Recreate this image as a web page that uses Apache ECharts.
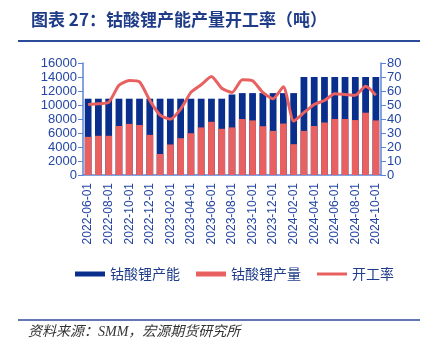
<!DOCTYPE html>
<html>
<head>
<meta charset="utf-8">
<script src="https://cdn.jsdelivr.net/npm/echarts@6/dist/echarts.min.js"></script>
<style>
  html, body { margin: 0; padding: 0; background: #fff; }
  #main { width: 427px; height: 351px; }
</style>
</head>
<body>
<div id="main"></div>
<script>
// 月度数据 2022-06 ~ 2024-10
var months = [
    '2022-06-01', '2022-07-01', '2022-08-01', '2022-09-01', '2022-10-01', '2022-11-01', '2022-12-01',
    '2023-01-01', '2023-02-01', '2023-03-01', '2023-04-01', '2023-05-01', '2023-06-01', '2023-07-01',
    '2023-08-01', '2023-09-01', '2023-10-01', '2023-11-01', '2023-12-01', '2024-01-01', '2024-02-01',
    '2024-03-01', '2024-04-01', '2024-05-01', '2024-06-01', '2024-07-01', '2024-08-01', '2024-09-01',
    '2024-10-01'
];

var capacity = [10900, 10900, 10900, 10900, 10900, 10900, 10900, 10900, 10900, 10900,
    10900, 10900, 10900, 10900, 11500, 11700, 11700, 11700, 11700, 11700,
    11700, 14000, 14000, 14000, 14000, 14000, 14000, 14000, 14000];
var output = [5450, 5600, 5600, 7000, 7300, 7150, 5730, 3000, 4360, 5260,
    5970, 6800, 7600, 6600, 6800, 8000, 7800, 6970, 6300, 7350,
    4400, 6300, 7000, 7500, 8000, 8000, 7850, 8900, 7800];
var rate = [50.4, 50.9, 51.8, 64.1, 67.5, 66.5, 53.3, 42.8, 39.8, 47,
    59, 64.5, 70.3, 62, 59, 68, 67.3, 59, 54.5, 63,
    38.6, 44.5, 50.4, 53.2, 58, 57.5, 57, 63.4, 57];

var blue = '#0A2E8C';
var red = '#E8605F';
var txt = '#2446A3';
var axisColor = '#5B84D6';

var chart = echarts.init(document.getElementById('main'));

var option = {
    animation: false,
    title: {
        text: '图表 27：钴酸锂产能产量开工率（吨）',
        left: 26,
        top: 6,
        textStyle: {
            color: '#1F3C88',
            fontSize: 17,
            fontWeight: 'bold',
            fontFamily: 'Noto Sans CJK SC'
        }
    },
    graphic: [
        { type: 'line', shape: { x1: 18, y1: 41, x2: 420, y2: 41 }, style: { stroke: '#2B4C9B', lineWidth: 2 } },
        { type: 'line', shape: { x1: 18, y1: 320, x2: 420, y2: 320 }, style: { stroke: '#2B4C9B', lineWidth: 1.5 } },
        {
            type: 'text', left: 28, top: 325,
            style: {
                text: '资料来源：SMM，宏源期货研究所',
                fill: '#333',
                fontSize: 14,
                fontStyle: 'italic',
                fontFamily: 'Liberation Serif, Noto Sans CJK SC'
            }
        }
    ],
    legend: {
        top: 262,
        left: 70,
        itemGap: 16,
        itemWidth: 30,
        itemHeight: 5,
        textStyle: { color: '#1F3C88', fontSize: 14, fontFamily: 'Noto Sans CJK SC' },
        data: [
            { name: '钴酸锂产能', icon: 'rect' },
            { name: '钴酸锂产量', icon: 'rect' },
            { name: '开工率', icon: 'path://M0,0H30V3H0Z' }
        ]
    },
    grid: { left: 83, right: 46, top: 63, bottom: 176 },
    xAxis: {
        type: 'category',
        data: months,
        axisLine: { lineStyle: { color: axisColor, width: 1.5 } },
        axisTick: { alignWithLabel: true, interval: 1, lineStyle: { color: axisColor } },
        axisLabel: {
            interval: 1,
            rotate: 90,
            color: txt,
            fontSize: 12,
            fontFamily: 'Liberation Sans'
        }
    },
    yAxis: [
        {
            type: 'value',
            min: 0, max: 16000, interval: 2000,
            splitLine: { show: false },
            axisLine: { show: true, lineStyle: { color: axisColor, width: 1.5 } },
            axisTick: { show: true, lineStyle: { color: axisColor } },
            axisLabel: {
                color: txt, fontSize: 13, fontFamily: 'Liberation Sans', margin: 6,
                formatter: function (v) { return String(v); }
            }
        },
        {
            type: 'value',
            min: 0, max: 80, interval: 10,
            splitLine: { show: false },
            axisLine: { show: true, lineStyle: { color: axisColor, width: 1.5 } },
            axisTick: { show: true, lineStyle: { color: axisColor } },
            axisLabel: { color: txt, fontSize: 13, fontFamily: 'Liberation Sans', margin: 6 }
        }
    ],
    series: [
        {
            name: '钴酸锂产能',
            type: 'bar',
            data: capacity,
            barWidth: '66%',
            itemStyle: { color: blue }
        },
        {
            name: '钴酸锂产量',
            type: 'bar',
            data: output,
            barWidth: '66%',
            barGap: '-100%',
            itemStyle: { color: red }
        },
        {
            name: '开工率',
            type: 'line',
            yAxisIndex: 1,
            data: rate,
            symbol: 'none',
            smooth: 0.2,
            lineStyle: { color: red, width: 3 },
            itemStyle: { color: red }
        }
    ]
};

chart.setOption(option);
</script>
</body>
</html>
